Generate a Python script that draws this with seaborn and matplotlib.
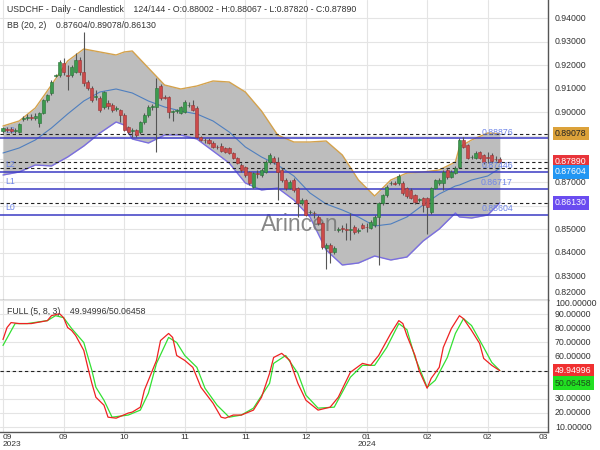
import matplotlib
matplotlib.use("Agg")
import matplotlib.pyplot as plt
import seaborn as sns
import pandas as pd
from matplotlib.patches import Rectangle

sns.set_theme(style="white")
plt.rcParams['font.family'] = ['Liberation Sans', 'DejaVu Sans']

# ---------------- data ----------------
opens = [0.8919, 0.8930, 0.8928, 0.8918, 0.8915, 0.8972, 0.8976, 0.8978, 0.8975, 0.8955,
         0.8998, 0.9050, 0.9081, 0.9155, 0.9158, 0.9209, 0.9160, 0.9158, 0.9171, 0.9222,
         0.9171, 0.9128, 0.9103, 0.9065, 0.9060, 0.9022, 0.9040, 0.9030, 0.9015, 0.9009,
         0.8988, 0.8936, 0.8920, 0.8924, 0.8915, 0.8958, 0.8988, 0.9020, 0.9022, 0.9111,
         0.9066, 0.9064, 0.9000, 0.9005, 0.8996, 0.9000, 0.9030, 0.9030, 0.9018, 0.8894,
         0.8882, 0.8881, 0.8868, 0.8852, 0.8857, 0.8847, 0.8845, 0.8826, 0.8804, 0.8774,
         0.8766, 0.8745, 0.8681, 0.8740, 0.8732, 0.8745, 0.8787, 0.8804, 0.8787, 0.8753,
         0.8710, 0.8676, 0.8710, 0.8676, 0.8612, 0.8625, 0.8572, 0.8570, 0.8553, 0.8527,
         0.8421, 0.8433, 0.8403, 0.8497, 0.8504, 0.8500, 0.8498, 0.8510, 0.8495, 0.8519,
         0.8510, 0.8506, 0.8519, 0.8553, 0.8612, 0.8647, 0.8696, 0.8698, 0.8698, 0.8698,
         0.8676, 0.8668, 0.8646, 0.8625, 0.8634, 0.8634, 0.8574, 0.8676, 0.8698, 0.8698,
         0.8753, 0.8723, 0.8740, 0.8766, 0.8881, 0.8860, 0.8808, 0.8804, 0.8830, 0.8817,
         0.8808, 0.8817, 0.8802, 0.88002]
highs = [0.8937, 0.8936, 0.8935, 0.8932, 0.8953, 0.8985, 0.8990, 0.8992, 0.8995, 0.9002,
         0.9055, 0.9078, 0.9135, 0.9162, 0.9222, 0.9230, 0.9200, 0.9200, 0.9252, 0.9235,
         0.9342, 0.9135, 0.9110, 0.9094, 0.9068, 0.9092, 0.9050, 0.9038, 0.9025, 0.9015,
         0.8995, 0.8942, 0.8932, 0.8930, 0.8963, 0.8995, 0.9030, 0.9035, 0.9145, 0.9120,
         0.9075, 0.9070, 0.9010, 0.9015, 0.9028, 0.9050, 0.9042, 0.9052, 0.9025, 0.8900,
         0.8890, 0.8888, 0.8875, 0.8860, 0.8868, 0.8852, 0.8850, 0.8830, 0.8810, 0.8782,
         0.8772, 0.8750, 0.8745, 0.8753, 0.8760, 0.8795, 0.8825, 0.8812, 0.8810, 0.8760,
         0.8718, 0.8710, 0.8718, 0.8682, 0.8632, 0.8630, 0.8582, 0.8580, 0.8560, 0.8532,
         0.8440, 0.8440, 0.8428, 0.8510, 0.8518, 0.8527, 0.8570, 0.8520, 0.8505, 0.8527,
         0.8527, 0.8538, 0.8560, 0.8618, 0.8652, 0.8688, 0.8708, 0.8705, 0.8736, 0.8705,
         0.8682, 0.8675, 0.8652, 0.8635, 0.8640, 0.8640, 0.8682, 0.8716, 0.8720, 0.8752,
         0.8760, 0.8752, 0.8768, 0.8888, 0.8895, 0.8866, 0.8818, 0.8832, 0.8836, 0.8822,
         0.8830, 0.8825, 0.8812, 0.88067]
lows = [0.8911, 0.8915, 0.8910, 0.8912, 0.8912, 0.8962, 0.8965, 0.8966, 0.8968, 0.8935,
        0.8990, 0.9045, 0.9075, 0.9150, 0.9150, 0.9160, 0.9094, 0.9150, 0.9165, 0.9160,
        0.9110, 0.9095, 0.9045, 0.9050, 0.9000, 0.9015, 0.9015, 0.9000, 0.9005, 0.8958,
        0.8918, 0.8908, 0.8894, 0.8895, 0.8908, 0.8950, 0.8980, 0.9010, 0.8830, 0.9052,
        0.9055, 0.8975, 0.8960, 0.8995, 0.8990, 0.8995, 0.9020, 0.9003, 0.8888, 0.8875,
        0.8868, 0.8862, 0.8845, 0.8842, 0.8828, 0.8825, 0.8820, 0.8798, 0.8778, 0.8745,
        0.8725, 0.8690, 0.8675, 0.8718, 0.8725, 0.8740, 0.8780, 0.8780, 0.8625, 0.8700,
        0.8668, 0.8670, 0.8660, 0.8553, 0.8605, 0.8555, 0.8565, 0.8550, 0.8520, 0.8418,
        0.8331, 0.8356, 0.8395, 0.8490, 0.8490, 0.8455, 0.8455, 0.8480, 0.8485, 0.8500,
        0.8489, 0.8500, 0.8512, 0.8348, 0.8605, 0.8640, 0.8688, 0.8688, 0.8690, 0.8648,
        0.8635, 0.8628, 0.8610, 0.8618, 0.8574, 0.8480, 0.8565, 0.8670, 0.8690, 0.8668,
        0.8715, 0.8718, 0.8735, 0.8760, 0.8845, 0.8798, 0.8800, 0.8798, 0.8798, 0.8780,
        0.8783, 0.8783, 0.8790, 0.87820]
closes = [0.8932, 0.8925, 0.8918, 0.8925, 0.8949, 0.8976, 0.8978, 0.8975, 0.8985, 0.8996,
          0.9050, 0.9072, 0.9128, 0.9158, 0.9214, 0.9171, 0.9155, 0.9192, 0.9222, 0.9171,
          0.9124, 0.9103, 0.9052, 0.9068, 0.9009, 0.9086, 0.9025, 0.9009, 0.9018, 0.8988,
          0.8924, 0.8915, 0.8924, 0.8902, 0.8958, 0.8988, 0.9022, 0.9024, 0.9103, 0.9060,
          0.9062, 0.9000, 0.9003, 0.9008, 0.9022, 0.9043, 0.9032, 0.9009, 0.8894, 0.8881,
          0.8879, 0.8868, 0.8851, 0.8850, 0.8835, 0.8830, 0.8826, 0.8804, 0.8783, 0.8753,
          0.8732, 0.8698, 0.8740, 0.8738, 0.8753, 0.8787, 0.8817, 0.8787, 0.8745, 0.8710,
          0.8676, 0.8702, 0.8668, 0.8612, 0.8625, 0.8561, 0.8575, 0.8568, 0.8527, 0.8425,
          0.8433, 0.8403, 0.8421, 0.8500, 0.8502, 0.8497, 0.8502, 0.8489, 0.8497, 0.8506,
          0.8508, 0.8531, 0.8553, 0.8612, 0.8647, 0.8681, 0.8698, 0.8695, 0.8727, 0.8655,
          0.8642, 0.8634, 0.8617, 0.8628, 0.8604, 0.8595, 0.8676, 0.8710, 0.8712, 0.8745,
          0.8723, 0.8745, 0.8762, 0.8881, 0.8852, 0.8804, 0.8810, 0.8826, 0.8804, 0.8787,
          0.8806, 0.8790, 0.8800, 0.87890]

bb_idx = [0, 4, 8, 12, 16, 20, 24, 28, 30, 32, 36, 40, 44, 48, 52, 56, 60, 64, 68, 72,
          76, 80, 84, 88, 92, 96, 100, 104, 108, 112, 113, 116, 120, 123]
bb_upper = [0.89407, 0.89621, 0.90175, 0.91156, 0.92179, 0.92691, 0.92563, 0.92435, 0.92563, 0.92606,
            0.91881, 0.91156, 0.90985, 0.91113, 0.91326, 0.91283, 0.90857, 0.90047, 0.89023, 0.88725,
            0.88725, 0.88768, 0.88171, 0.87104, 0.86422, 0.87104, 0.87403, 0.87446, 0.87531, 0.87872,
            0.88512, 0.88810, 0.89109, 0.89078]
bb_middle = [0.88256, 0.88469, 0.88810, 0.89322, 0.89919, 0.90473, 0.90857, 0.90985, 0.90900, 0.90815,
             0.90473, 0.90217, 0.90047, 0.89919, 0.89621, 0.89151, 0.88512, 0.88085, 0.87744, 0.87275,
             0.86550, 0.86081, 0.85825, 0.85527, 0.85143, 0.85228, 0.85527, 0.86039, 0.86507, 0.86849,
             0.86890, 0.87104, 0.87275, 0.87604]
bb_lower = [0.87318, 0.87446, 0.87744, 0.87702, 0.88085, 0.88554, 0.89109, 0.89578, 0.89450, 0.88853,
            0.88682, 0.89024, 0.89024, 0.88853, 0.88341, 0.87829, 0.86977, 0.86678, 0.86763, 0.86252,
            0.85527, 0.84119, 0.83480, 0.83565, 0.83863, 0.83693, 0.83821, 0.84503, 0.85015, 0.85697,
            0.85527, 0.85484, 0.85612, 0.86130]

k_idx = [0, 1, 2, 4, 7, 11, 12, 14, 15, 16, 17, 18, 20, 21, 22, 23, 25, 26, 28, 31,
         32, 34, 35, 38, 39, 41, 42, 43, 45, 47, 49, 52, 54, 55, 57, 59, 62, 64, 66, 67,
         69, 71, 73, 75, 78, 81, 83, 86, 89, 91, 93, 96, 98, 99, 100, 102, 103, 105, 106, 108,
         109, 111, 113, 114, 116, 118, 119, 121, 123]
k_vals = [72.0, 80.5, 84.0, 83.3, 83.3, 85.4, 88.9, 90.3, 87.5, 80.5, 78.4, 74.8, 64.3, 52.3, 41.0,
          31.1, 25.5, 17.0, 16.3, 19.9, 20.6, 24.1, 36.1, 57.2, 71.3, 76.3, 73.5, 60.7, 57.2, 52.3,
          38.2, 26.9, 17.0, 16.3, 18.5, 18.5, 22.0, 31.1, 48.1, 59.3, 62.2, 57.2, 41.0, 29.0, 22.0,
          24.1, 31.1, 48.8, 55.1, 53.7, 60.7, 76.3, 85.4, 83.3, 74.8, 60.7, 50.2, 37.5, 44.5, 52.3,
          66.4, 79.8, 88.9, 86.8, 78.4, 69.2, 58.6, 53.7, 49.94996]
d_idx = [0, 3, 6, 11, 13, 15, 17, 20, 22, 23, 25, 27, 31, 34, 36, 38, 41, 43, 45, 48,
         50, 53, 56, 59, 62, 66, 67, 70, 73, 75, 78, 82, 86, 89, 92, 95, 98, 100, 102, 104,
         105, 107, 110, 112, 114, 116, 119, 121, 123]
d_vals = [67.8, 83.3, 83.3, 85.4, 88.9, 87.5, 79.8, 69.9, 50.2, 38.2, 29.0, 17.0, 18.5, 22.0, 34.0,
          55.1, 73.5, 69.9, 60.7, 52.3, 37.5, 25.5, 17.0, 18.5, 23.4, 41.0, 55.1, 60.7, 48.1, 32.6,
          23.4, 24.1, 45.3, 53.7, 53.7, 66.4, 83.3, 79.0, 59.3, 45.3, 38.2, 43.1, 59.3, 76.3, 86.8,
          81.9, 66.4, 55.8, 50.06458]

level_values = [0.88876, 0.87446, 0.86717, 0.85604]
level_names = ["L3", "L2", "L1", "L0"]
price_ticks = [0.94, 0.93, 0.92, 0.91, 0.90, 0.89, 0.88, 0.87, 0.86, 0.85, 0.84, 0.83, 0.82]
price_tick_labels = ["0.94000", "0.93000", "0.92000", "0.91000", "0.90000", "", "", "0.87000", "",
                     "0.85000", "0.84000", "0.83000", "0.82000"]
osc_ticks = [100, 90, 80, 70, 60, 50, 40, 30, 20, 10]
osc_tick_labels = ["100.00000", "90.00000", "80.00000", "70.00000", "60.00000", "", "",
                   "30.00000", "20.00000", "10.00000"]
date_tick_idx = [0, 15, 30, 45, 60, 75, 90, 105, 120, 135]
date_tick_labels = ["09\n2023", "09", "10", "11", "11", "12", "01\n2024", "02", "02", "03"]

last_close = 0.87890
bb_now = (0.87604, 0.89078, 0.86130)
stoch_now = (49.94996, 50.06458)

# ---------------- figure ----------------
W, H = 600.0, 450.0
fig = plt.figure(figsize=(6, 4.5), dpi=100)
fig.patch.set_facecolor("white")
ax1 = fig.add_axes([0, 1 - 300 / H, 548.3 / W, 300 / H])
ax2 = fig.add_axes([0, 1 - 432 / H, 548.3 / W, 132 / H])

for ax in (ax1, ax2):
    ax.set_facecolor("white")
    ax.set_xlim(-0.74, 135)
    ax.set_xticks(date_tick_idx)
    ax.tick_params(length=0, labelleft=False, labelbottom=False, labelright=False)
    ax.grid(True, color="#e4e4e4", linewidth=0.8)
    ax.set_axisbelow(True)
    for s in ("left", "top"):
        ax.spines[s].set_visible(False)
    for s in ("right", "bottom"):
        ax.spines[s].set_color("#555555")
        ax.spines[s].set_linewidth(1.0)

ax1.set_ylim(0.81987, 0.94780)
ax1.set_yticks(price_ticks)
ax2.set_ylim(6.5, 99.5)
ax2.set_yticks(osc_ticks)

# Bollinger bands
bb = pd.DataFrame({"idx": bb_idx, "upper": bb_upper, "middle": bb_middle, "lower": bb_lower})
ax1.fill_between(bb["idx"], bb["lower"], bb["upper"], color="#bdbdbd", zorder=1, linewidth=0)
sns.lineplot(data=bb, x="idx", y="upper", ax=ax1, color="#d4a24c", linewidth=1.0, zorder=2)
sns.lineplot(data=bb, x="idx", y="lower", ax=ax1, color="#7a6ee0", linewidth=1.0, zorder=2)
sns.lineplot(data=bb, x="idx", y="middle", ax=ax1, color="#4f7fbf", linewidth=0.8, zorder=2)

# watermark
ax1.text(73.5, 0.8519, "Arincen", fontsize=16.5, color="#7a7a7a", ha="center", va="center",
         zorder=3, alpha=0.9)

# dotted current-value lines
for v in (bb_now[1], last_close, bb_now[0], bb_now[2]):
    ax1.axhline(v, color="#222222", linestyle=(0, (3, 2.5)), linewidth=0.8, zorder=3)

# level lines
for v, name in zip(level_values, level_names):
    ax1.axhline(v, color="#3b3bc4", linewidth=1.1, zorder=3)
    ax1.annotate(f"{v:.5f}", xy=(122.3, v), xytext=(0, 4.5), textcoords="offset points",
                 ha="center", va="center", fontsize=6.3, color="#6f86e8", zorder=6)
    ax1.annotate(name, xy=(0.6, v), xytext=(0, 5.5), textcoords="offset points",
                 ha="left", va="center", fontsize=6.3, color="#6f86e8", zorder=3.5)

# candles
up_c, up_e = "#3c9b4e", "#2a7038"
dn_c, dn_e = "#cc4a4a", "#993333"
idx = list(range(len(closes)))
ax1.vlines(idx, lows, highs, color="#555555", linewidth=0.8, zorder=4)
for i, o, c in zip(idx, opens, closes):
    lo, hi = min(o, c), max(o, c)
    h = max(hi - lo, 0.00012)
    fc, ec = (up_c, up_e) if c >= o else (dn_c, dn_e)
    ax1.add_patch(Rectangle((i - 0.38, lo), 0.76, h, facecolor=fc, edgecolor=ec,
                            linewidth=0.4, zorder=5))

# stochastic
k_df = pd.DataFrame({"idx": k_idx, "k": k_vals})
d_df = pd.DataFrame({"idx": d_idx, "d": d_vals})
ax2.axhline(stoch_now[0], color="#222222", linestyle=(0, (3, 2.5)), linewidth=0.8, zorder=2)
sns.lineplot(data=d_df, x="idx", y="d", ax=ax2, color="#33e033", linewidth=0.9, zorder=3)
sns.lineplot(data=k_df, x="idx", y="k", ax=ax2, color="#ee2222", linewidth=0.9, zorder=4)

for ax in (ax1, ax2):
    ax.set_xlabel("")
    ax.set_ylabel("")

# right-hand scale labels (edge labels nudged inward, as in the reference)
lx = 1.012
for v, lab in zip(price_ticks, price_tick_labels):
    if lab:
        yy = 0.8229 if v == 0.82 else v
        ax1.text(lx, yy, lab, transform=ax1.get_yaxis_transform(), fontsize=6.3, color="#333333",
                 ha="left", va="center", clip_on=False)
for v, lab in zip(osc_ticks, osc_tick_labels):
    if lab:
        yy = 97.2 if v == 100 else v
        ax2.text(lx, yy, lab, transform=ax2.get_yaxis_transform(), fontsize=6.3, color="#333333",
                 ha="left", va="center", clip_on=False)

def box(ax, y, text, fc, tc):
    ax.text(lx, y, text, transform=ax.get_yaxis_transform(), fontsize=6.3, color=tc,
            ha="left", va="center", clip_on=False, zorder=10,
            bbox=dict(boxstyle="square,pad=0.25", fc=fc, ec="none"))

box(ax1, bb_now[1], f"{bb_now[1]:.5f}", "#dca23a", "#222222")
box(ax1, last_close, f"{last_close:.5f}", "#e8343a", "white")
box(ax1, 0.87446, f"{bb_now[0]:.5f}", "#2196f3", "white")
box(ax1, bb_now[2], f"{bb_now[2]:.5f}", "#6a4cf0", "white")
box(ax2, stoch_now[0], f"{stoch_now[0]:.5f}", "#f03030", "white")
box(ax2, 41.2, f"{stoch_now[1]:.5f}", "#22e022", "#1a4a1a")

# date labels
bt = ax2.get_xaxis_transform()
for j, (t, lab) in enumerate(zip(date_tick_idx, date_tick_labels)):
    ha = "left" if j == 0 else ("right" if j == len(date_tick_idx) - 1 else "center")
    ax2.text(t, -0.015, lab, transform=bt, fontsize=6.0, color="#333333", ha=ha, va="top",
             linespacing=0.95, clip_on=False)

# titles
fig.text(7 / W, 1 - 10 / H,
         "USDCHF - Daily - Candlestick    124/144 - O:0.88002 - H:0.88067 - L:0.87820 - C:0.87890",
         fontsize=6.3, color="#333333", ha="left", va="center")
fig.text(7 / W, 1 - 26 / H, "BB (20, 2)    0.87604/0.89078/0.86130",
         fontsize=6.3, color="#333333", ha="left", va="center")
fig.text(7 / W, 1 - 311 / H, "FULL (5, 8, 3)    49.94996/50.06458",
         fontsize=6.3, color="#333333", ha="left", va="center")

fig.savefig("out.png", dpi=100, facecolor="white")
